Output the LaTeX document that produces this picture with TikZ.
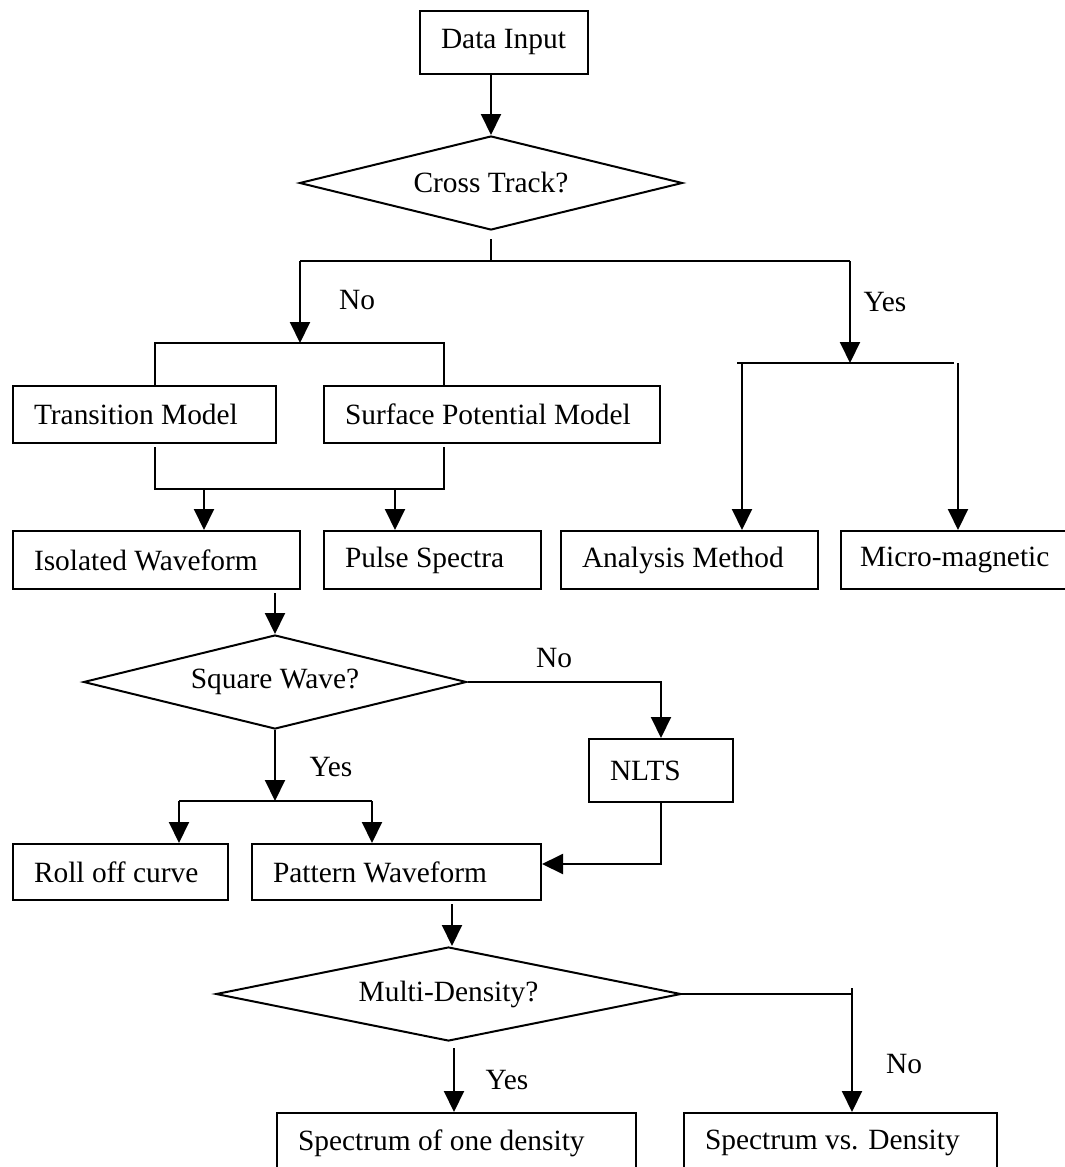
\documentclass[tikz,border=0pt]{standalone}
\usepackage{fontspec}
\setmainfont{Liberation Serif}
\usetikzlibrary{arrows.meta,shapes.geometric}
\tikzset{>={Triangle[length=10.5pt,width=10pt]}}
\tikzset{
  box/.style={draw, anchor=north west, inner xsep=10.5pt, inner ysep=0pt, align=flush left},
  decision/.style={draw, diamond, aspect=4, inner sep=0pt, minimum height=47pt},
  lbl/.style={inner sep=0pt}
}

\begin{document}
\begin{tikzpicture}[x=0.5pt,y=-0.5pt,line width=1pt,font=\fontsize{14.7}{17}\selectfont]
  \useasboundingbox (0,0) rectangle (1065,1167);
  \clip (0,0) rectangle (1065,1167);
  % boxes
  \node[box, text width=63pt, minimum height=31.5pt] (input) at (419,10) {Data Input};
  \node[box, text width=110.5pt, minimum height=28.5pt] (trans) at (12,385) {Transition Model};
  \node[box, text width=147pt, minimum height=28.5pt] (surf) at (323,385) {Surface Potential Model};
  \node[box, text width=122.5pt, minimum height=29pt] (iso) at (12,530) {Isolated Waveform};
  \node[box, text width=87.5pt, minimum height=29pt] (pulse) at (323,530) {Pulse Spectra};
  \node[box, text width=107.5pt, minimum height=29pt] (anal) at (560,530) {Analysis Method};
  \node[box, text width=100pt, minimum height=29pt, inner xsep=9.5pt] (micro) at (840,530) {Micro-magnetic};
  \node[box, text width=51pt, minimum height=31.5pt] (nlts) at (588,738) {NLTS};
  \node[box, text width=86.5pt, minimum height=28pt] (roll) at (12,843) {Roll off curve};
  \node[box, text width=123.5pt, minimum height=28pt] (patt) at (251,843) {Pattern Waveform};
  \node[box, text width=158.5pt, minimum height=30pt] (one) at (276,1112) {Spectrum of one density};
  \node[box, text width=135.5pt, minimum height=30pt] (vs) at (683,1112) {Spectrum vs. Density};
  % decisions
  \node[decision, minimum width=191.5pt] (cross) at (491,183) {Cross Track?};
  \node[decision, minimum width=191.5pt] (square) at (275,682) {Square Wave?};
  \node[decision, minimum width=232.5pt] (multi) at (448.5,994) {Multi-Density?};

  % cross track
  \draw[->] (cross.north |- input.south) -- (cross.north);
  \coordinate (ctOut) at (491,239);
  \coordinate (ctSplit) at (491,261);
  \coordinate (noL) at (300,261);
  \coordinate (yesR) at (850,261);
  \draw (ctOut) -- (ctSplit);
  \draw (noL) -- (yesR);
  % no branch
  \coordinate (brA) at (155,343);
  \coordinate (brB) at (444,343);
  \draw[->] (noL) -- (noL |- brA);
  \draw (brA |- trans.north) -- (brA) -- (brB) -- (brB |- surf.north);
  \coordinate (mgA0) at (155,447);
  \coordinate (mgB0) at (444,447);
  \coordinate (mgA) at (155,489);
  \coordinate (mgB) at (444,489);
  \draw (mgA0) -- (mgA) -- (mgB) -- (mgB0);
  \coordinate (isoIn) at (204,489);
  \coordinate (psIn) at (395,489);
  \draw[->] (isoIn) -- (isoIn |- iso.north);
  \draw[->] (psIn) -- (psIn |- pulse.north);
  % yes branch
  \coordinate (ysp) at (850,363);
  \coordinate (ybA) at (737,363);
  \coordinate (ybB) at (954,363);
  \coordinate (anIn) at (742,363);
  \coordinate (miIn) at (958,363);
  \draw[->] (yesR) -- (ysp);
  \draw (ybA) -- (ybB);
  \draw[->] (anIn) -- (anIn |- anal.north);
  \draw[->] (miIn) -- (miIn |- micro.north);

  % square wave
  \coordinate (isoOut) at (275,593);
  \draw[->] (isoOut) -- (square.north);
  \draw[->] (square.east) -- (nlts.north |- square.east) -- (nlts.north);
  \coordinate (sqY) at (275,801);
  \coordinate (rfIn) at (179,801);
  \coordinate (pwIn) at (372,801);
  \draw[->] (square.south) -- (sqY);
  \draw (rfIn) -- (pwIn);
  \draw[->] (rfIn) -- (rfIn |- roll.north);
  \draw[->] (pwIn) -- (pwIn |- patt.north);
  \coordinate (nlOut) at (nlts.south |- 0,864);
  \draw[->] (nlts.south) -- (nlOut) -- (nlOut -| patt.east);

  % multi density
  \coordinate (pwOut) at (452,904);
  \draw[->] (pwOut) -- (pwOut |- multi.north);
  \coordinate (mdR) at (852,994);
  \coordinate (mdT) at (852,988);
  \draw (multi.east) -- (mdR);
  \draw[->] (mdT) -- (mdT |- vs.north);
  \coordinate (mdY) at (454,1048);
  \draw[->] (mdY) -- (mdY |- one.north);

  % labels
  \node[lbl] (no1) at (357,300) {No};
  \node[lbl] (yes1) at (885,302) {Yes};
  \node[lbl] (no2) at (554,658) {No};
  \node[lbl] (yes2) at (331,767) {Yes};
  \node[lbl] (no3) at (904,1064) {No};
  \node[lbl] (yes3) at (507,1080) {Yes};
\end{tikzpicture}
\end{document}
